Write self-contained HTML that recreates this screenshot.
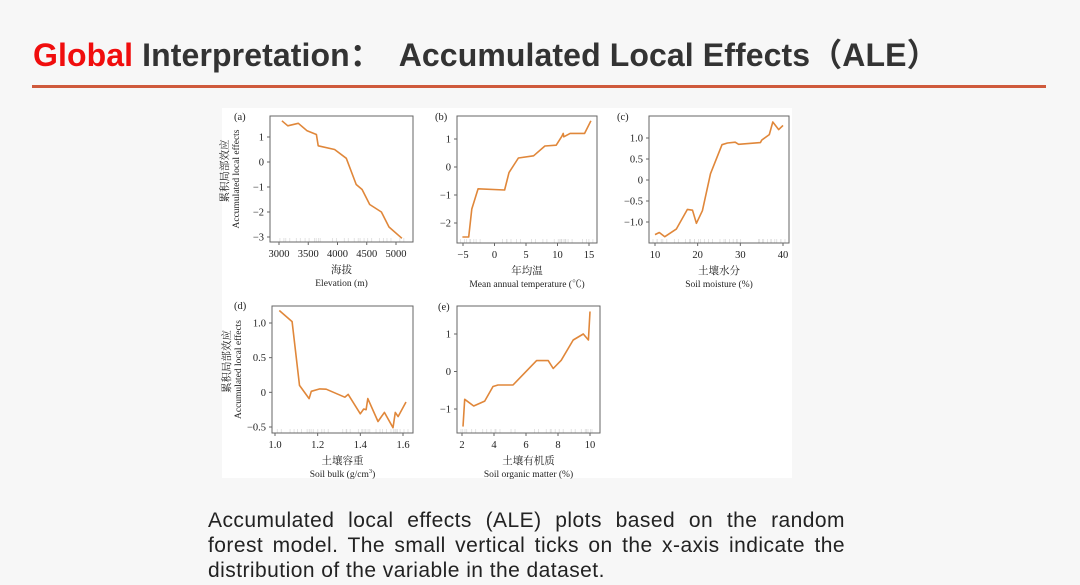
<!DOCTYPE html>
<html><head><meta charset="utf-8"><style>
body{margin:0;width:1080px;height:585px;background:#f7f7f7;overflow:hidden;position:relative;font-family:"Liberation Sans","Noto Sans CJK SC",sans-serif}
#title{position:absolute;left:33px;top:30px;font-size:32px;font-weight:bold;color:#333;white-space:pre;letter-spacing:0.1px}
#title span{color:#f00d0d}
#rule{position:absolute;left:32px;top:85px;width:1014px;height:3px;background:#cf5a3c}
#fig{position:absolute;left:222px;top:108px;width:570px;height:370px;background:#fff}
#cap{position:absolute;left:208px;top:508px;width:637px;font-size:21px;letter-spacing:0.45px;line-height:25px;color:#222;text-align:justify;text-align-last:left}
svg{position:absolute;left:0;top:0}
</style></head><body>
<div id="title"><span>Global</span> Interpretation：  Accumulated Local Effects（ALE）</div>
<div id="rule"></div>
<div id="fig"></div>
<div id="cap">Accumulated local effects (ALE) plots based on the random forest model. The small vertical ticks on the x-axis indicate the distribution of the variable in the dataset.</div>
<svg id="chart" width="1080" height="585"></svg>
<script>
// Panel (a) Elevation
const aX=[3050,3150,3330,3480,3640,3670,3950,4150,4320,4420,4550,4750,4880,5100];
const aY=[1.65,1.45,1.55,1.25,1.1,0.65,0.5,0.15,-0.9,-1.1,-1.7,-2.0,-2.6,-3.05];
const aXT=[3000,3500,4000,4500,5000];
const aYT=[1,0,-1,-2,-3];
// Panel (b) Mean annual temperature
const bX=[-5.1,-4.1,-3.6,-2.6,1.6,2.3,3.8,6.2,8,9.8,10.7,10.9,11,12,14.3,15.3];
const bY=[-2.5,-2.5,-1.5,-0.78,-0.82,-0.2,0.32,0.4,0.75,0.78,1.1,1.2,1.08,1.2,1.2,1.65];
const bXT=[-5,0,5,10,15];
const bYT=[1,0,-1,-2];
// Panel (c) Soil moisture
const cX=[10,11,12.3,15,17.6,18.8,19.7,21.1,23,25.7,27,28.8,29.6,34.7,35,36.8,37.6,39,40];
const cY=[-1.3,-1.25,-1.35,-1.17,-0.7,-0.72,-1.03,-0.73,0.15,0.84,0.88,0.9,0.85,0.89,0.95,1.08,1.38,1.2,1.3];
const cXT=[10,20,30,40];
const cYT=[1.0,0.5,0,-0.5,-1.0];
const cYL=["1.0","0.5","0","−0.5","−1.0"];
// Panel (d) Soil bulk density
const dX=[1.02,1.08,1.115,1.16,1.17,1.21,1.24,1.327,1.343,1.40,1.416,1.427,1.435,1.483,1.513,1.553,1.564,1.577,1.614];
const dY=[1.18,1.02,0.1,-0.09,0.015,0.05,0.045,-0.07,-0.03,-0.31,-0.24,-0.25,-0.09,-0.42,-0.29,-0.51,-0.29,-0.35,-0.14];
const dXT=[1.0,1.2,1.4,1.6];
const dYT=[1.0,0.5,0,-0.5];
const dYL=["1.0","0.5","0","−0.5"];
const dXL=["1.0","1.2","1.4","1.6"];
// Panel (e) Soil organic matter
const eX=[2.06,2.17,2.73,3.42,3.94,4.25,5.19,6.66,7.39,7.7,8.2,8.95,9.58,9.9,10.0];
const eY=[-1.47,-0.74,-0.92,-0.79,-0.4,-0.36,-0.36,0.29,0.29,0.08,0.3,0.84,1.0,0.84,1.6];
const eXT=[2,4,6,8,10];
const eYT=[1,0,-1];

const NS="http://www.w3.org/2000/svg";
const svg=document.getElementById('chart');
function mk(tag,at,parent){const e=document.createElementNS(NS,tag);for(const k in at)e.setAttribute(k,at[k]);(parent||svg).appendChild(e);return e;}
function lin(d0,d1,p0,p1){return v=>p0+(v-d0)*(p1-p0)/(d1-d0);}
function fmt(v){return v<0?"−"+Math.abs(v):String(v);}

function panel(o){
  const g=mk('g',{});
  
  
  const sx=lin(o.xd[0],o.xd[1],o.xp[0],o.xp[1]);
  const sy=lin(o.yd[0],o.yd[1],o.yp[0],o.yp[1]);
  const b=o.box;
  const rg=mk('g',{},g);
  
  
  for(let i=0;i<o.x.length;i++){
    const xx=sx(o.x[i]);
    for(const dx of [-2,2]){
      const t=mk('line',{x1:xx+dx,x2:xx+dx,y1:b[3]-4,y2:b[3],stroke:'#ddd','stroke-width':0.8},rg);
      
      
    }
  }
  const r=mk('rect',{x:b[0],y:b[1],width:b[2]-b[0],height:b[3]-b[1],fill:'none',stroke:'#666','stroke-width':1},g);
  
  
  o.xt.forEach((v,i)=>{
    const xx=sx(v);
    mk('line',{x1:xx,x2:xx,y1:b[3],y2:b[3]+3,stroke:'#666'},g);
    const t=mk('text',{x:xx,y:b[3]+15,'text-anchor':'middle','font-size':10.5,fill:'#222','font-family':'Liberation Serif,serif'},g);
    t.textContent=o.xl?o.xl[i]:fmt(v);
    
    
  });
  o.yt.forEach((v,i)=>{
    const yy=sy(v);
    mk('line',{x1:b[0]-3,x2:b[0],y1:yy,y2:yy,stroke:'#666'},g);
    const t=mk('text',{x:b[0]-6,y:yy+3.5,'text-anchor':'end','font-size':10.5,fill:'#222','font-family':'Liberation Serif,serif'},g);
    t.textContent=o.yl?o.yl[i]:fmt(v);
    
    
  });
  const pts=o.x.map((v,i)=>sx(v).toFixed(1)+','+sy(o.y[i]).toFixed(1)).join(' ');
  const pl=mk('polyline',{points:pts,fill:'none',stroke:'#e0873a','stroke-width':1.6,'stroke-linejoin':'round'},g);
  
  
  const lab=mk('text',{x:o.lab[0],y:o.lab[1],'font-size':10.5,fill:'#222','font-family':'Liberation Serif,serif'},g);
  lab.textContent='('+o.id+')';
  
  
  const cx=(b[0]+b[2])/2;
  const t1=mk('text',{x:cx,y:b[3]+31,'text-anchor':'middle','font-size':10.5,fill:'#222','font-family':'Liberation Serif,Noto Serif CJK SC,serif'},g);
  t1.textContent=o.cn;
  
  
  const t2=mk('text',{x:cx,y:b[3]+44,'text-anchor':'middle','font-size':9.5,fill:'#222','font-family':'Liberation Serif,Noto Serif CJK SC,serif'},g);
  t2.innerHTML=o.en;
  
  
  if(o.ylab){
    const cy=(b[1]+b[3])/2;
    const y1=mk('text',{x:0,y:0,transform:`translate(${b[0]-42},${cy-8}) rotate(-90)`,'text-anchor':'middle','font-size':10.5,fill:'#222','font-family':'Liberation Serif,Noto Serif CJK SC,serif'},g);
    y1.textContent='累积局部效应';
    
    
    const y2=mk('text',{x:0,y:0,transform:`translate(${b[0]-31},${cy}) rotate(-90)`,'text-anchor':'middle','font-size':9.5,fill:'#222','font-family':'Liberation Serif,serif'},g);
    y2.textContent='Accumulated local effects';
    
    
  }
}
panel({id:'a',x:aX,y:aY,xt:aXT,yt:aYT,box:[270,116,413,242],xd:[3000,5000],xp:[279,396],yd:[1,-3],yp:[137,237],lab:[234,120],cn:'海拔',en:'Elevation (m)',ylab:true});
panel({id:'b',x:bX,y:bY,xt:bXT,yt:bYT,box:[457,116,597,243],xd:[-5,15],xp:[463,589],yd:[1,-2],yp:[139,223],lab:[435,120],cn:'年均温',en:'Mean annual temperature (℃)'});
panel({id:'c',x:cX,y:cY,xt:cXT,yt:cYT,yl:cYL,box:[649,116,789,243],xd:[10,40],xp:[655,783],yd:[1,-1],yp:[138,222],lab:[617,120],cn:'土壤水分',en:'Soil moisture (%)'});
panel({id:'d',x:dX,y:dY,xt:dXT,yt:dYT,yl:dYL,xl:dXL,box:[272,306,413,433],xd:[1.0,1.6],xp:[275,403],yd:[1,-0.5],yp:[323,427],lab:[234,309],cn:'土壤容重',en:'Soil bulk (g/cm<tspan dy="-4" font-size="6.5">3</tspan><tspan dy="4">)</tspan>',ylab:true});
panel({id:'e',x:eX,y:eY,xt:eXT,yt:eYT,box:[457,306,600,433],xd:[2,10],xp:[462,590],yd:[1,-1],yp:[334,409],lab:[438,310],cn:'土壤有机质',en:'Soil organic matter (%)'});
</script>
</body></html>
